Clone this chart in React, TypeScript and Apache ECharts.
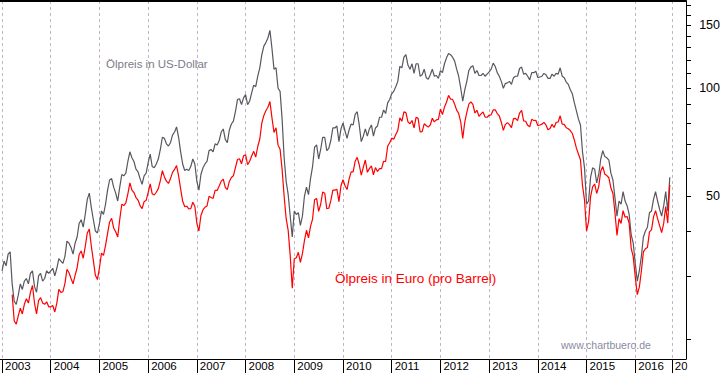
import { useEffect, useRef } from "react";
import * as echarts from "echarts";

// Brent oil price, half-monthly readings (USD per barrel)
const usd2003 = [31.0, 33.0, 32.0, 34.5, 35.0, 28.5, 25.5, 25.0, 26.5, 28.5, 27.5, 29.0, 29.5, 28.5, 30.5, 31.0, 28.0, 27.0, 30.0, 30.5, 29.0, 29.5, 31.0, 30.5];
const usd2004 = [31.0, 31.5, 30.0, 31.5, 33.5, 33.0, 32.5, 34.0, 37.5, 37.0, 36.0, 34.5, 37.0, 38.5, 42.0, 43.0, 41.0, 44.5, 49.0, 51.0, 46.5, 43.0, 40.0, 39.5];
const usd2005 = [42.0, 45.5, 44.5, 47.5, 52.0, 55.5, 56.0, 53.0, 51.0, 48.5, 53.0, 57.5, 57.0, 58.0, 62.5, 66.5, 64.0, 62.5, 59.5, 58.5, 56.0, 54.0, 57.0, 58.0];
const usd2006 = [62.0, 65.5, 60.5, 60.0, 61.5, 63.5, 67.5, 73.0, 72.5, 70.0, 69.0, 70.5, 74.0, 75.5, 78.0, 73.0, 66.5, 61.5, 59.0, 59.5, 59.0, 60.5, 63.5, 61.5];
const usd2007 = [55.0, 52.0, 57.5, 60.0, 61.5, 62.5, 67.0, 67.5, 66.5, 70.0, 69.5, 71.5, 75.5, 77.0, 72.0, 70.5, 76.5, 79.5, 81.0, 86.0, 93.0, 93.5, 90.0, 94.0];
const usd2008 = [96.0, 90.0, 92.0, 97.0, 102.0, 101.0, 108.0, 114.0, 124.0, 131.0, 134.0, 138.0, 145.0, 129.0, 113.0, 114.0, 100.0, 98.0, 82.0, 64.0, 55.0, 50.5, 44.0, 38.5];
const usd2009 = [45.5, 44.5, 45.0, 41.5, 44.0, 50.0, 53.0, 50.5, 56.0, 60.5, 68.5, 69.5, 63.5, 67.5, 73.0, 73.0, 67.0, 68.0, 71.5, 77.5, 77.5, 78.5, 71.0, 77.0];
const usd2010 = [80.0, 76.0, 72.5, 76.5, 79.5, 79.0, 84.5, 86.0, 79.0, 71.0, 73.5, 77.0, 73.5, 77.0, 79.0, 73.5, 77.5, 78.5, 83.0, 83.0, 87.0, 85.0, 91.0, 93.0];
const usd2011 = [96.5, 98.0, 101.0, 104.5, 115.0, 114.0, 122.0, 124.0, 116.0, 113.0, 117.0, 110.0, 117.0, 117.0, 108.0, 109.0, 113.0, 107.0, 106.0, 109.0, 113.0, 108.0, 108.5, 106.5];
const usd2012 = [112.0, 110.5, 117.0, 121.5, 125.0, 124.0, 122.0, 119.0, 113.0, 108.0, 100.0, 92.0, 99.0, 104.5, 112.0, 114.5, 115.5, 110.0, 112.0, 108.5, 108.5, 110.0, 108.0, 109.5];
const usd2013 = [111.0, 113.0, 117.5, 115.0, 110.5, 108.0, 104.5, 100.0, 103.0, 103.5, 104.5, 102.5, 107.0, 108.0, 108.0, 113.5, 114.5, 109.5, 110.0, 108.0, 105.5, 110.5, 110.5, 111.5];
const usd2014 = [107.0, 107.5, 108.0, 110.0, 109.0, 106.5, 106.5, 109.5, 108.0, 110.0, 109.5, 114.0, 108.0, 107.0, 104.0, 102.5, 99.0, 96.5, 91.0, 86.5, 82.0, 79.0, 66.5, 60.0];
const usd2015 = [47.5, 48.5, 56.5, 60.0, 59.5, 54.5, 57.5, 63.5, 67.0, 64.5, 64.0, 63.0, 58.0, 55.5, 49.5, 44.0, 48.5, 47.5, 51.5, 48.5, 47.0, 44.5, 39.0, 37.0];
const usd2016 = [32.5, 29.0, 31.0, 34.0, 38.5, 40.0, 41.0, 45.0, 45.5, 49.0, 51.5, 48.5, 46.0, 44.0, 47.0, 51.5, 45.5, 56.5];

// Brent oil price in EUR per barrel
const eur2003 = [null, null, null, null, null, 26.6, 22.5, 22.0, 23.2, 24.4, 23.5, 25.0, 25.9, 25.2, 27.0, 28.2, 25.2, 23.5, 25.6, 26.1, 25.2, 25.0, 25.4, 24.6];
const eur2004 = [24.6, 24.8, 23.8, 25.2, 27.5, 27.0, 27.1, 28.6, 31.3, 30.6, 29.5, 28.5, 30.1, 31.6, 34.4, 35.2, 33.6, 36.2, 39.5, 40.5, 36.3, 33.1, 30.1, 29.3];
const eur2005 = [31.6, 34.7, 34.2, 36.5, 39.4, 42.4, 43.4, 40.8, 39.8, 38.5, 43.1, 47.5, 47.1, 47.9, 50.8, 54.5, 52.0, 51.2, 49.6, 48.8, 47.1, 46.2, 48.3, 48.7];
const eur2006 = [51.2, 54.1, 50.8, 50.4, 51.3, 52.5, 55.3, 58.9, 56.6, 55.1, 54.3, 56.0, 58.3, 59.4, 60.9, 57.0, 52.4, 48.4, 46.8, 46.9, 46.1, 46.2, 48.1, 46.9];
const eur2007 = [42.0, 40.0, 44.2, 45.8, 46.6, 47.0, 50.0, 49.6, 49.3, 51.9, 51.9, 53.4, 55.1, 55.8, 52.9, 52.2, 55.0, 56.4, 57.0, 60.1, 63.3, 63.6, 61.6, 64.8];
const eur2008 = [65.3, 61.2, 62.6, 64.7, 66.7, 64.3, 68.8, 72.2, 80.0, 84.0, 86.5, 88.5, 91.8, 82.7, 75.3, 77.6, 69.4, 67.6, 59.4, 50.0, 43.3, 40.1, 34.1, 27.7];
const eur2009 = [33.5, 33.7, 34.9, 32.7, 34.6, 37.6, 40.2, 38.3, 41.2, 43.2, 48.9, 49.3, 45.4, 47.5, 51.4, 51.0, 46.2, 46.3, 48.6, 52.0, 52.0, 52.3, 48.3, 53.5];
const eur2010 = [55.6, 53.5, 52.2, 55.8, 58.5, 58.5, 62.6, 64.2, 61.2, 57.3, 60.2, 63.1, 58.3, 59.7, 60.8, 57.4, 60.1, 58.6, 59.7, 59.7, 62.6, 62.5, 68.9, 70.5];
const eur2011 = [72.6, 72.1, 74.3, 76.3, 82.7, 80.9, 85.9, 85.5, 80.6, 79.6, 81.3, 77.5, 83.0, 82.4, 75.5, 75.7, 79.6, 78.7, 77.9, 79.0, 82.5, 80.6, 81.6, 81.9];
const eur2012 = [87.5, 84.4, 88.6, 91.4, 95.5, 93.2, 93.1, 90.2, 86.9, 85.0, 80.6, 72.5, 80.5, 85.7, 90.3, 91.6, 90.2, 85.3, 86.8, 83.5, 84.8, 85.9, 83.1, 83.0];
const eur2013 = [84.1, 84.3, 87.0, 87.1, 85.0, 83.7, 80.4, 76.3, 79.2, 80.2, 79.2, 77.7, 82.3, 82.4, 81.2, 85.3, 86.7, 81.1, 80.9, 78.8, 78.1, 81.9, 81.3, 81.4];
const eur2014 = [78.7, 79.0, 79.4, 80.3, 79.0, 76.6, 77.2, 79.3, 77.7, 80.3, 80.5, 83.8, 79.4, 79.3, 77.6, 77.1, 76.2, 74.8, 71.7, 68.1, 65.6, 63.2, 53.6, 48.8];
const eur2015 = [40.0, 42.5, 50.0, 53.1, 54.1, 50.9, 53.2, 58.8, 60.5, 57.6, 57.1, 56.3, 52.7, 50.9, 45.0, 38.9, 43.3, 42.0, 45.6, 43.7, 43.9, 42.0, 35.8, 33.9];
const eur2016 = [29.8, 26.6, 27.9, 30.9, 35.0, 35.7, 36.0, 39.8, 40.3, 43.8, 45.6, 43.3, 41.4, 39.6, 42.0, 46.8, 42.1, 53.8];

// Category dates (x axis is by data point, like the original)
const leadDates = ["2002-12-16"];
const halfMonthYears = [2003, 2004, 2005, 2006, 2007, 2008, 2009, 2010, 2011, 2012, 2013, 2014, 2015];
const dates2016 = [
  "2016-01-01", "2016-01-16", "2016-02-01", "2016-02-16", "2016-03-01", "2016-03-16",
  "2016-04-01", "2016-04-16", "2016-05-01", "2016-05-16", "2016-06-01", "2016-06-16",
  "2016-07-01", "2016-08-01", "2016-09-01", "2016-10-01", "2016-11-01", "2016-12-01",
];
const tailDates = ["2017-01-01", "2017-01-16", "2017-02-01", "2017-02-16", "2017-03-01", "2017-03-16", "2017-04-01", "2017-04-16"];

// Y axis (log scale)
const yMin = 17.6;
const yMax = 175;
const yTickValues = [20, 30, 40, 50, 60, 70, 80, 90, 100, 110, 120, 130, 140, 150, 160, 170];
const yLabelValues = [50, 100, 150];

const usdLabel = "Ölpreis in US-Dollar";
const eurLabel = "Ölpreis in Euro (pro Barrel)";
const sourceLabel = "www.chartbuero.de";

function buildCategories(): string[] {
  const cats: string[] = [...leadDates];
  for (const y of halfMonthYears) {
    for (let m = 1; m <= 12; m++) {
      const mm = String(m).padStart(2, "0");
      cats.push(`${y}-${mm}-01`, `${y}-${mm}-16`);
    }
  }
  cats.push(...dates2016, ...tailDates);
  return cats;
}

const FONT = '"Liberation Sans", Arial, sans-serif';

export default function App() {
  const ref = useRef<HTMLDivElement>(null);
  useEffect(() => {
    if (!ref.current) return;
    const chart = echarts.init(ref.current, null, { renderer: "svg" });
    const categories = buildCategories();
    const lead = leadDates.map(() => null);
    const tail = tailDates.map(() => null);
    const usd = [
      ...lead, ...usd2003, ...usd2004, ...usd2005, ...usd2006, ...usd2007, ...usd2008, ...usd2009,
      ...usd2010, ...usd2011, ...usd2012, ...usd2013, ...usd2014, ...usd2015, ...usd2016, ...tail,
    ];
    const eur = [
      ...lead, ...eur2003, ...eur2004, ...eur2005, ...eur2006, ...eur2007, ...eur2008, ...eur2009,
      ...eur2010, ...eur2011, ...eur2012, ...eur2013, ...eur2014, ...eur2015, ...eur2016, ...tail,
    ];
    const isYearStart = (_i: number, v: string) => String(v).endsWith("-01-01");

    chart.setOption({
      animation: false,
      backgroundColor: "#ffffff",
      grid: { left: 0, top: 1, width: 687, height: 358, containLabel: false },
      xAxis: [
        {
          type: "category",
          data: categories,
          boundaryGap: false,
          position: "bottom",
          axisLine: { show: true, lineStyle: { color: "#000", width: 1 } },
          axisTick: { show: true, interval: isYearStart, length: 14, lineStyle: { color: "#000", width: 1 } },
          axisLabel: {
            show: true,
            interval: isYearStart,
            formatter: (v: string) => v.slice(0, 4),
            align: "left",
            padding: [0, 0, 0, 3],
            margin: 1,
            fontSize: 11.5,
            fontFamily: FONT,
            color: "#000",
          },
          splitLine: {
            show: true,
            interval: isYearStart,
            lineStyle: { color: "#c4b4ca", type: [3, 3], width: 1 },
          },
        },
        {
          type: "category",
          data: categories,
          boundaryGap: false,
          position: "top",
          axisLine: { show: true, lineStyle: { color: "#000", width: 2 } },
          axisTick: { show: false },
          axisLabel: { show: false },
          splitLine: { show: false },
        },
      ],
      yAxis: [
        {
          type: "log",
          logBase: 10,
          min: yMin,
          max: yMax,
          position: "right",
          axisLine: { show: true, lineStyle: { color: "#000", width: 1 } },
          axisTick: { show: false },
          axisLabel: { show: false },
          splitLine: { show: false },
          minorTick: { show: false },
        },
        {
          type: "value",
          min: Math.log10(yMin),
          max: Math.log10(yMax),
          position: "right",
          axisLine: { show: false },
          axisTick: {
            show: true,
            customValues: yTickValues.map((v) => Math.log10(v)),
            length: 5,
            lineStyle: { color: "#000", width: 1 },
          },
          axisLabel: {
            show: true,
            customValues: yLabelValues.map((v) => Math.log10(v)),
            formatter: (v: number) => String(Math.round(Math.pow(10, v))),
            align: "right",
            margin: 34,
            fontSize: 12.5,
            fontFamily: FONT,
            color: "#000",
          },
          splitLine: { show: false },
        },
      ],
      series: [
        {
          name: "USD",
          type: "line",
          data: usd,
          xAxisIndex: 0,
          yAxisIndex: 0,
          showSymbol: false,
          symbol: "none",
          silent: true,
          lineStyle: { color: "#57575d", width: 1.2 },
          connectNulls: false,
        },
        {
          name: "EUR",
          type: "line",
          data: eur,
          xAxisIndex: 0,
          yAxisIndex: 0,
          showSymbol: false,
          symbol: "none",
          silent: true,
          lineStyle: { color: "#ff0000", width: 1.2 },
          connectNulls: false,
        },
      ],
      graphic: [
        {
          type: "text",
          x: 106,
          y: 64,
          style: { text: usdLabel, fill: "#7c7c86", fontSize: 11.5, fontFamily: FONT, verticalAlign: "middle" },
          z: 50,
        },
        {
          type: "text",
          x: 335,
          y: 278,
          style: { text: eurLabel, fill: "#ff0000", fontSize: 13.5, fontFamily: FONT, verticalAlign: "middle" },
          z: 50,
        },
        {
          type: "text",
          x: 561,
          y: 345,
          style: { text: sourceLabel, fill: "#8a8aa2", fontSize: 10.5, fontFamily: FONT, verticalAlign: "middle" },
          z: 50,
        },
        {
          type: "rect",
          shape: { x: 687.5, y: 359.5, width: 40, height: 16 },
          style: { fill: "#ffffff" },
          z: 100,
        },
      ],
    });
    return () => chart.dispose();
  }, []);
  return <div ref={ref} style={{ position: "fixed", left: 0, top: 0, width: 723, height: 373 }} />;
}
